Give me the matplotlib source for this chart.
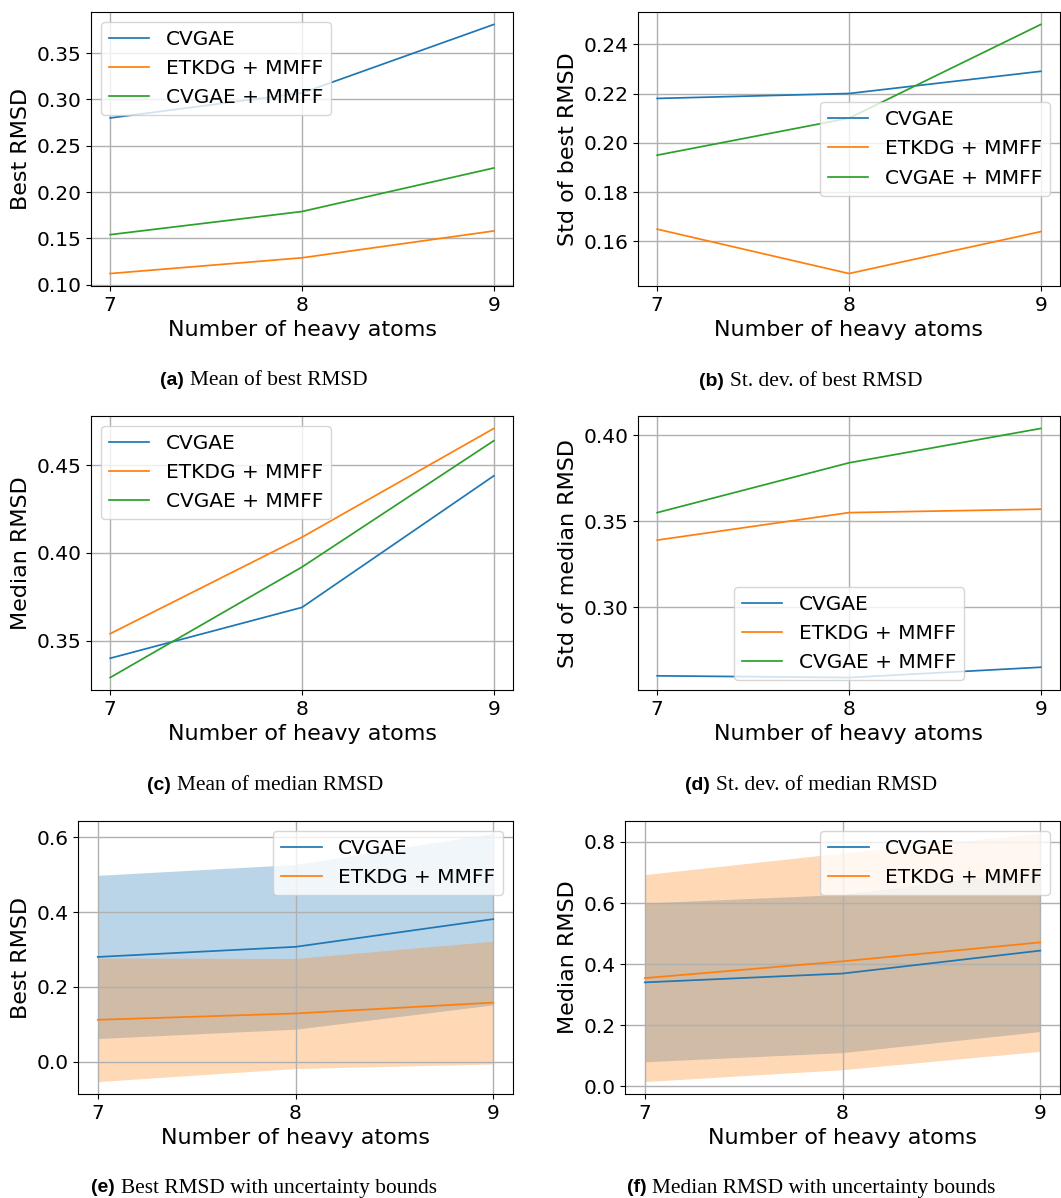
"""Six-panel RMSD summary vs. number of heavy atoms (CVGAE vs. ETKDG + MMFF)."""

import matplotlib

matplotlib.use("Agg")
import matplotlib.pyplot as plt
import numpy as np

W_PX, H_PX = 1061, 1198
DPI = 100

ATOMS = [7, 8, 9]
LABELS = ["CVGAE", "ETKDG + MMFF", "CVGAE + MMFF"]
COLORS = ["#1f77b4", "#ff7f0e", "#2ca02c"]

# mean / std of the best RMSD per molecule
MEAN_BEST_CVGAE = [0.280, 0.307, 0.381]
MEAN_BEST_ETKDG = [0.112, 0.129, 0.158]
MEAN_BEST_CVGAE_MMFF = [0.154, 0.179, 0.226]

STD_BEST_CVGAE = [0.218, 0.220, 0.229]
STD_BEST_ETKDG = [0.165, 0.147, 0.164]
STD_BEST_CVGAE_MMFF = [0.195, 0.210, 0.248]

# mean / std of the median RMSD per molecule
MEAN_MED_CVGAE = [0.340, 0.369, 0.444]
MEAN_MED_ETKDG = [0.354, 0.409, 0.471]
MEAN_MED_CVGAE_MMFF = [0.329, 0.392, 0.464]

STD_MED_CVGAE = [0.260, 0.259, 0.265]
STD_MED_ETKDG = [0.339, 0.355, 0.357]
STD_MED_CVGAE_MMFF = [0.355, 0.384, 0.404]

CAPTIONS = [
    ("(a)", "Mean of best RMSD"),
    ("(b)", "St. dev. of best RMSD"),
    ("(c)", "Mean of median RMSD"),
    ("(d)", "St. dev. of median RMSD"),
    ("(e)", "Best RMSD with uncertainty bounds"),
    ("(f)", "Median RMSD with uncertainty bounds"),
]

FS_TICK = 14.5
FS_LABEL = 16
FS_LEGEND = 14.5
LW = 1.25


def _axes(fig, left, top, right, bottom):
    """Add axes from pixel box (top-left origin)."""
    rect = (left / W_PX, 1 - bottom / H_PX, (right - left) / W_PX, (bottom - top) / H_PX)
    ax = fig.add_axes(rect)
    ax.grid(True, color="#b0b0b0", lw=1.0)
    ax.set_xticks(ATOMS)
    ax.tick_params(labelsize=FS_TICK)
    ax.set_xlabel("Number of heavy atoms", fontsize=FS_LABEL)
    return ax


def _caption(fig, cx, cy, tag, text):
    renderer = fig.canvas.get_renderer()
    t1 = fig.text(0, 0, tag, family="Liberation Sans", weight="bold", fontsize=14,
                  va="center", ha="left")
    t2 = fig.text(0, 0, text, family="Liberation Serif", fontsize=15.4,
                  va="center", ha="left")
    w1 = t1.get_window_extent(renderer).width
    w2 = t2.get_window_extent(renderer).width
    gap = 6
    x0 = cx - (w1 + gap + w2) / 2
    t1.set_position((x0 / W_PX, 1 - cy / H_PX))
    t2.set_position(((x0 + w1 + gap) / W_PX, 1 - cy / H_PX))


def main() -> None:
    fig = plt.figure(figsize=(W_PX / DPI, H_PX / DPI), dpi=DPI)

    # (a) mean of best RMSD
    ax = _axes(fig, 91, 12, 513, 286)
    for y, lab, c in zip([MEAN_BEST_CVGAE, MEAN_BEST_ETKDG, MEAN_BEST_CVGAE_MMFF], LABELS, COLORS):
        ax.plot(ATOMS, y, color=c, lw=LW, label=lab)
    ax.set_yticks(np.arange(0.10, 0.36, 0.05))
    ax.set_ylabel("Best RMSD", fontsize=FS_LABEL)
    ax.legend(loc="upper left", fontsize=FS_LEGEND)

    # (b) std of best RMSD
    ax = _axes(fig, 638, 12, 1060, 286)
    for y, lab, c in zip([STD_BEST_CVGAE, STD_BEST_ETKDG, STD_BEST_CVGAE_MMFF], LABELS, COLORS):
        ax.plot(ATOMS, y, color=c, lw=LW, label=lab)
    ax.set_yticks(np.arange(0.16, 0.245, 0.02))
    ax.set_ylabel("Std of best RMSD", fontsize=FS_LABEL)
    ax.legend(loc="center right", fontsize=FS_LEGEND)

    # (c) mean of median RMSD
    ax = _axes(fig, 91, 416, 513, 690)
    for y, lab, c in zip([MEAN_MED_CVGAE, MEAN_MED_ETKDG, MEAN_MED_CVGAE_MMFF], LABELS, COLORS):
        ax.plot(ATOMS, y, color=c, lw=LW, label=lab)
    ax.set_yticks([0.35, 0.40, 0.45])
    ax.set_ylabel("Median RMSD", fontsize=FS_LABEL)
    ax.legend(loc="upper left", fontsize=FS_LEGEND)

    # (d) std of median RMSD
    ax = _axes(fig, 638, 416, 1060, 690)
    for y, lab, c in zip([STD_MED_CVGAE, STD_MED_ETKDG, STD_MED_CVGAE_MMFF], LABELS, COLORS):
        ax.plot(ATOMS, y, color=c, lw=LW, label=lab)
    ax.set_yticks([0.30, 0.35, 0.40])
    ax.set_ylabel("Std of median RMSD", fontsize=FS_LABEL)
    ax.legend(loc="lower center", fontsize=FS_LEGEND)

    # (e) best RMSD +- std
    ax = _axes(fig, 78, 821, 513, 1094)
    for m, s, lab, c in zip([MEAN_BEST_CVGAE, MEAN_BEST_ETKDG], [STD_BEST_CVGAE, STD_BEST_ETKDG],
                            LABELS[:2], COLORS[:2]):
        m, s = np.array(m), np.array(s)
        ax.plot(ATOMS, m, color=c, lw=LW, label=lab)
        ax.fill_between(ATOMS, m - s, m + s, color=c, alpha=0.3, lw=0)
    ax.set_yticks([0.0, 0.2, 0.4, 0.6])
    ax.set_ylabel("Best RMSD", fontsize=FS_LABEL)
    ax.legend(loc="upper right", fontsize=FS_LEGEND)

    # (f) median RMSD +- std
    ax = _axes(fig, 625, 821, 1060, 1094)
    for m, s, lab, c in zip([MEAN_MED_CVGAE, MEAN_MED_ETKDG], [STD_MED_CVGAE, STD_MED_ETKDG],
                            LABELS[:2], COLORS[:2]):
        m, s = np.array(m), np.array(s)
        ax.plot(ATOMS, m, color=c, lw=LW, label=lab)
        ax.fill_between(ATOMS, m - s, m + s, color=c, alpha=0.3, lw=0)
    ax.set_yticks([0.0, 0.2, 0.4, 0.6, 0.8])
    ax.set_ylabel("Median RMSD", fontsize=FS_LABEL)
    ax.legend(loc="upper right", fontsize=FS_LEGEND)

    centers = [(264, 380), (811, 381), (265, 785), (811, 785), (264, 1188), (811, 1188)]
    for (cx, cy), (tag, text) in zip(centers, CAPTIONS):
        _caption(fig, cx, cy, tag, text)

    fig.savefig("out.png", dpi=DPI)
    plt.close(fig)


if __name__ == "__main__":
    main()
